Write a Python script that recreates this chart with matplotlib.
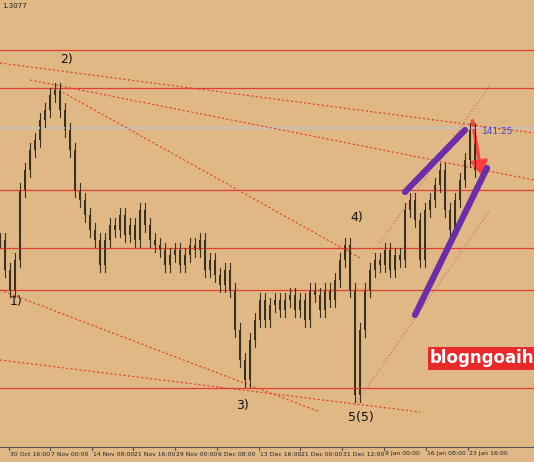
import matplotlib
matplotlib.use("Agg")
import matplotlib.pyplot as plt
from matplotlib.patches import FancyArrowPatch

H = 462
# close levels (screen units from bottom), one candle per 5 px of time
closes = [222,192,172,202,272,292,312,322,342,352,367,372,352,332,312,272,262,247,232,222,
          197,222,237,232,247,227,237,222,252,237,222,217,212,197,207,212,197,207,217,212,
          222,192,202,187,177,192,172,132,102,82,122,142,162,142,157,162,152,162,167,152,
          162,142,172,167,152,172,162,182,202,217,172,67,132,172,192,202,197,212,192,207,
          202,252,262,242,202,252,262,277,292,252,232,262,282,302,332,292]
wick = 7
step = 5

hlines = [412, 374, 272, 214, 172, 74]
gray_line = 334
tick_pos = [8.5,50,92,133,175,217,259,300,342,384,426,468]
tick_lbl = ["30 Oct 16:00","7 Nov 00:00","14 Nov 08:00","21 Nov 16:00","29 Nov 00:00",
            "6 Dec 08:00","13 Dec 16:00","21 Dec 00:00","31 Dec 12:00","9 Jan 00:00",
            "16 Jan 08:00","23 Jan 16:00"]

fig = plt.figure(figsize=(5.34,4.62), dpi=100)
fig.patch.set_facecolor("#dfb886")
ax = fig.add_axes([0,0,1,1])
ax.set_facecolor("#dfb886")
ax.set_xlim(0,534); ax.set_ylim(0,H)
ax.axis("off")

for y in hlines:
    ax.axhline(y, color="#e0402a", lw=0.9)
ax.axhline(gray_line, color="#c8c0b8", lw=1.5)

for (x0,y0,x1,y1) in [(0,63,534,133),(30,80,534,180),(55,88,360,258),
                      (0,290,320,412),(0,360,420,412)]:
    ax.plot([x0,x1],[H-y0,H-y1], ls=(0,(2,2)), color="#e83a2a", lw=0.8)
for (x0,y0,x1,y1) in [(355,405,490,210),(380,243,490,85)]:
    ax.plot([x0,x1],[H-y0,H-y1], ls=(0,(1,2)), color="#d06070", lw=0.8)

prev = closes[0]
for i,c in enumerate(closes):
    x = i*step
    o = prev
    ax.plot([x,x],[min(o,c)-wick,max(o,c)+wick], color="#3a3020", lw=0.8)
    ax.bar(x, abs(c-o) or 1, bottom=min(o,c), width=2.2, color="#3a3020")
    prev = c

ax.plot([405,465],[H-192,H-130], color="#6a2ea8", lw=4.5, solid_capstyle="round")
ax.plot([415,487],[H-315,H-168], color="#6a2ea8", lw=4.5, solid_capstyle="round")
ax.add_patch(FancyArrowPatch((472,H-118),(482,H-178), arrowstyle="-|>,head_width=5,head_length=8",
                             color="#ff4040", lw=2.5))

for t,(x,y) in {"2)":(60,60),"1)":(10,302),"3)":(236,405),"4)":(350,217),"5(5)":(348,418)}.items():
    ax.text(x,H-y,t,fontsize=9,va="center",color="#111")
ax.text(482,H-131,"141:25",fontsize=6.5,color="#4040e0",va="center")
ax.text(2,H-6,"1.3077",fontsize=5,color="#222",va="center")
ax.text(430,H-358,"blogngoaihoi",fontsize=12,color="white",fontweight="bold",va="center",
        bbox=dict(boxstyle="square,pad=0.15",fc="#e8282a",ec="none"))

ax.axhspan(0,H-447,color="#dfb886",zorder=5)
ax.plot([0,534],[H-447,H-447],color="#555",lw=0.8,zorder=6)
for x,l in zip(tick_pos,tick_lbl):
    ax.plot([x,x],[H-447,H-450],color="#555",lw=0.8,zorder=6)
    ax.text(x+1,H-454,l,fontsize=4.4,color="#222",va="center",zorder=6)
fig.savefig("out.png", dpi=100, facecolor=fig.get_facecolor())
